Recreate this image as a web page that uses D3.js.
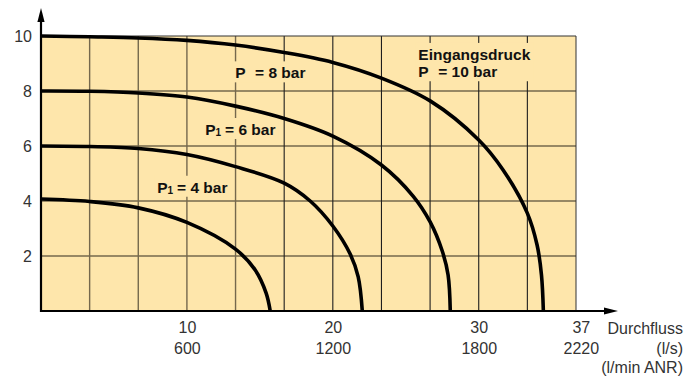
<!DOCTYPE html>
<html>
<head>
<meta charset="utf-8">
<script src="https://cdn.jsdelivr.net/npm/d3@7"></script>
<style>
  html, body { margin: 0; padding: 0; background: #fff; }
  svg { display: block; font-family: "Liberation Sans", Arial, Helvetica, sans-serif; }
</style>
</head>
<body>
<svg id="chart" width="692" height="376"></svg>
<script>
// Flow curves: [flow (l/s), outlet pressure (bar)] for each inlet pressure
const curve4bar  = [[0, 4.07], [3.33, 3.98], [6.67, 3.75], [10, 3.22], [13.33, 2.25], [14.68, 1.49], [15.43, 0.65], [15.71, 0]];
const curve6bar  = [[0, 6.0], [3.33, 5.98], [6.67, 5.91], [10, 5.69], [13.33, 5.25], [16.67, 4.65], [18.45, 4.0], [20, 3.09], [21.19, 2.07], [21.74, 1.24], [22.02, 0]];
const curve8bar  = [[0, 8.0], [3.33, 7.99], [6.67, 7.93], [10, 7.78], [13.33, 7.45], [16.67, 7.0], [20, 6.36], [23.33, 5.31], [25.5, 4.18], [26.67, 3.24], [27.5, 2.18], [27.9, 1.31], [28.05, 0]];
const curve10bar = [[0, 10], [3.33, 9.97], [6.67, 9.93], [10, 9.84], [13.33, 9.67], [16.67, 9.40], [20, 9.04], [23.33, 8.47], [26.67, 7.64], [30, 6.22], [31.67, 5.13], [33.33, 3.56], [34.0, 2.4], [34.3, 1.31], [34.43, 0]];

// Axis ticks
const pressureTicks = [2, 4, 6, 8, 10];
const flowTicks = [10, 20, 30, 37];
const flowTicksANR = ["600", "1200", "1800", "2220"];

// Curve annotations
const curveLabels = [
  { lines: [{ main: "Eingangsdruck" }, { main: "P", sub: "", rest: "= 10 bar" }], at: [25.86, 9.13] },
  { lines: [{ main: "P", sub: "", rest: "= 8 bar" }], at: [13.31, 8.46] },
  { lines: [{ main: "P", sub: "1", rest: "= 6 bar" }], at: [11.25, 6.40] },
  { lines: [{ main: "P", sub: "1", rest: "= 4 bar" }], at: [7.96, 4.30] }
];

const svg = d3.select("#chart");
const bg = "#fee6ab";
const flowMax = 110 / 3;            // 11 grid columns of 10/3 l/s
const columnStep = 10 / 3;

const x = d3.scaleLinear().domain([0, flowMax]).range([41, 576]);
const y = d3.scaleLinear().domain([0, 10]).range([311, 36]);

// Plot background
svg.append("rect")
  .attr("x", x(0)).attr("y", y(10))
  .attr("width", x(flowMax) - x(0)).attr("height", y(0) - y(10))
  .attr("fill", bg);

// Grid
const gridBrown = "#75684d";
svg.append("g").selectAll("line")
  .data(pressureTicks.filter(d => d < 10))
  .join("line")
  .attr("x1", x(0)).attr("x2", x(flowMax))
  .attr("y1", d => y(d)).attr("y2", d => y(d))
  .attr("stroke", gridBrown).attr("stroke-width", 1.4);

const gridFlows = d3.range(1, 11).map(k => k * columnStep);
svg.append("g").selectAll("line")
  .data(gridFlows)
  .join("line")
  .attr("x1", d => x(d)).attr("x2", d => x(d))
  .attr("y1", y(0)).attr("y2", y(10))
  .attr("stroke", (d, i) => i < 4 ? gridBrown : "#1e1e1e")
  .attr("stroke-width", (d, i) => i < 4 ? 1.4 : 1.1);

// Frame: top and right edges
svg.append("path")
  .attr("d", `M${x(0)},${y(10)}H${x(flowMax)}V${y(0)}`)
  .attr("fill", "none").attr("stroke", "#333").attr("stroke-width", 1);

// Annotations with a knock-out panel behind them
const labelLayer = svg.append("g");
curveLabels.forEach(lbl => {
  const g = labelLayer.append("g");
  const knock = g.append("rect").attr("fill", bg);
  lbl.lines.forEach((ln, i) => {
    const t = g.append("text")
      .attr("x", x(lbl.at[0]))
      .attr("y", y(lbl.at[1]) + i * 17.3)
      .attr("font-size", 15.5).attr("font-weight", "bold").attr("fill", "#111");
    t.append("tspan").text(ln.main);
    if (ln.rest !== undefined) {
      if (ln.sub) {
        t.append("tspan").attr("font-size", 10).attr("dy", 1).text(ln.sub);
        t.append("tspan").attr("dy", -1).attr("dx", 4).text(ln.rest);
      } else {
        t.append("tspan").attr("dx", 9.5).text(ln.rest);
      }
    }
  });
  const b = g.node().getBBox();
  knock.attr("x", b.x - 3).attr("y", b.y - 3).attr("width", b.width + 6).attr("height", b.height + 4);
});

// Curves
const line = d3.line()
  .x(d => x(d[0])).y(d => y(d[1]))
  .curve(d3.curveCatmullRom.alpha(0.5));
svg.append("g").selectAll("path")
  .data([curve4bar, curve6bar, curve8bar, curve10bar])
  .join("path")
  .attr("d", line)
  .attr("fill", "none").attr("stroke", "#000")
  .attr("stroke-width", 3.6).attr("stroke-linecap", "butt");

// Axis lines with arrow heads
svg.append("line")
  .attr("x1", x(0)).attr("x2", x(0)).attr("y1", y(0) + 1).attr("y2", 20)
  .attr("stroke", "#000").attr("stroke-width", 2.2);
svg.append("path")
  .attr("d", `M${x(0)},8L${x(0) + 3.6},22L${x(0) - 3.6},22Z`).attr("fill", "#000");
svg.append("line")
  .attr("x1", x(0) - 1).attr("x2", 606).attr("y1", y(0)).attr("y2", y(0))
  .attr("stroke", "#000").attr("stroke-width", 2);
svg.append("path")
  .attr("d", `M618,${y(0)}L604,${y(0) - 3.6}L604,${y(0) + 3.6}Z`).attr("fill", "#000");

// Y axis tick labels
const yAxis = svg.append("g")
  .attr("transform", `translate(${x(0)},0)`)
  .call(d3.axisLeft(y).tickValues(pressureTicks).tickSize(0).tickPadding(9));
yAxis.select(".domain").remove();
yAxis.selectAll("text")
  .attr("font-size", 16).attr("fill", "#333")
  .attr("font-family", "Liberation Sans, Arial, sans-serif");

// X axis tick labels (l/s and l/min ANR)
const xAxis = svg.append("g")
  .attr("transform", `translate(0,${y(0)})`)
  .call(d3.axisBottom(x).tickValues(flowTicks).tickSize(0).tickPadding(11).tickFormat(d3.format("d")));
xAxis.select(".domain").remove();
xAxis.selectAll(".tick").each(function (d, i) {
  d3.select(this).append("text")
    .attr("y", 32).attr("dy", "0.71em")
    .attr("fill", "#333")
    .text(flowTicksANR[i]);
});
xAxis.selectAll("text")
  .attr("font-size", 16).attr("fill", "#333")
  .attr("font-family", "Liberation Sans, Arial, sans-serif");

// Axis title
const xTitle = svg.append("text")
  .attr("text-anchor", "end").attr("font-size", 16).attr("fill", "#333");
[["Durchfluss", 333.5], ["(l/s)", 354], ["(l/min ANR)", 372.5]].forEach(([s, yy]) => {
  xTitle.append("tspan").attr("x", 683).attr("y", yy).text(s);
});
</script>
</body>
</html>
